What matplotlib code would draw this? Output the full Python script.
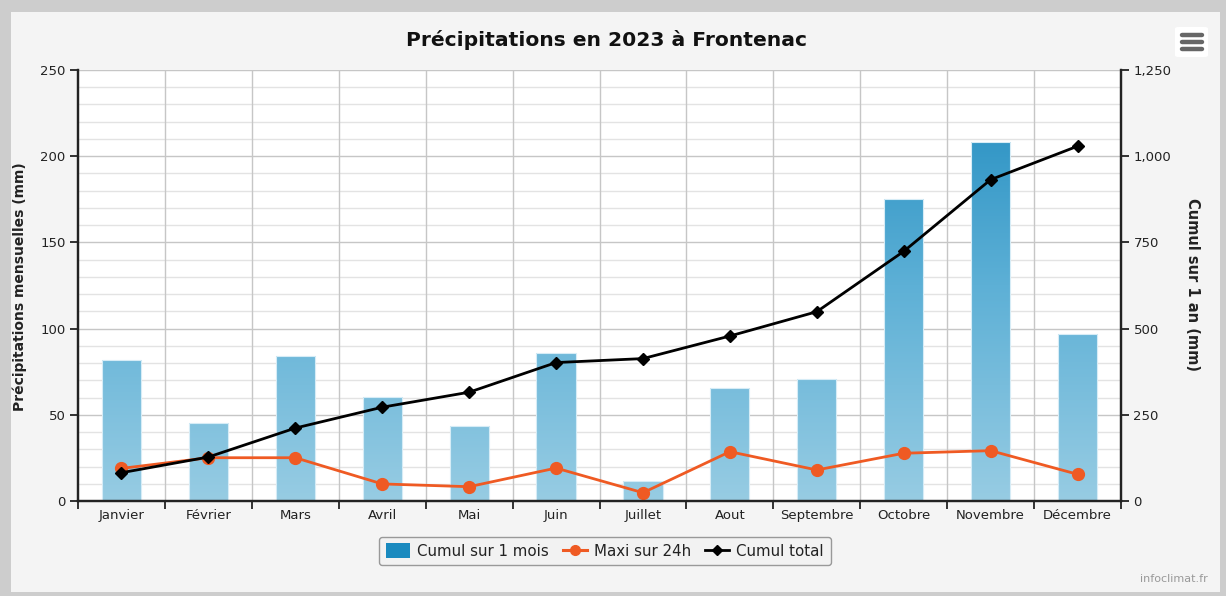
import numpy as np
import matplotlib
matplotlib.use("Agg")
import matplotlib.pyplot as plt
from matplotlib.patches import Rectangle, FancyBboxPatch, Patch
from matplotlib.lines import Line2D
from matplotlib.ticker import FuncFormatter

plt.rcParams['font.family'] = ['DejaVu Sans']

months = ["Janvier", "Février", "Mars", "Avril", "Mai", "Juin", "Juillet",
          "Aout", "Septembre", "Octobre", "Novembre", "Décembre"]
monthly_mm = [82, 45.5, 84, 60.5, 43.5, 86, 11.5, 65.5, 70.5, 175, 208, 97]
max_24h_mm = [18.9, 25.1, 25.1, 9.9, 8.3, 19.1, 4.8, 28.6, 18.0, 27.7, 29.2, 15.5]
left_ticks = [0, 50, 100, 150, 200, 250]
right_ticks = [0, 250, 500, 750, 1000, 1250]

cumul_total = np.cumsum(monthly_mm)

W, H, DPI = 1226, 596, 100
fig = plt.figure(figsize=(W / DPI, H / DPI), dpi=DPI, facecolor="#c9c9c9")

# window frame and chart background
fig.patches.append(Rectangle((0, 0), 1, 1, transform=fig.transFigure,
                             facecolor="#cdcdcd", edgecolor="none", zorder=-10))
fig.patches.append(Rectangle((11 / W, (H - 592) / H), (1220 - 11) / W, (592 - 12) / H,
                             transform=fig.transFigure, facecolor="#f4f4f4",
                             edgecolor="none", zorder=-9))

x0, x1, y0, y1 = 78, 1121, 70, 501
ax = fig.add_axes([x0 / W, (H - y1) / H, (x1 - x0) / W, (y1 - y0) / H])
ax.set_facecolor("white")
ax2 = ax.twinx()

x = np.arange(len(months))

# grid
for v in np.arange(0, 251, 10):
    major = v % 50 == 0
    ax.axhline(v, color="#c6c6c6" if major else "#e3e3e3", lw=1.0, zorder=0.5)
for b in np.arange(0.5, len(months) - 0.5, 1):
    ax.axvline(b, color="#c6c6c6", lw=1.0, zorder=0.5)

# bars with a vertical gradient spanning the plot height
grad = np.linspace(1, 0, 256).reshape(-1, 1)
cmap = matplotlib.colors.LinearSegmentedColormap.from_list(
    "blues", ["#97cce3", "#5db0d6", "#1f8bbf"])
bars = ax.bar(x, monthly_mm, width=0.45, color="none", edgecolor="#d6ecf6",
              lw=0.8, zorder=2)
for bar in bars:
    im = ax.imshow(grad, cmap=cmap, aspect="auto", origin="upper",
                   extent=[-0.5, len(months) - 0.5, 0, 250], zorder=1.9)
    im.set_clip_path(bar)
ax.set_xlim(-0.5, len(months) - 0.5)
ax.set_ylim(left_ticks[0], left_ticks[-1])
ax2.set_ylim(right_ticks[0], right_ticks[-1])

orange = "#ef5a23"
ax.plot(x, max_24h_mm, color=orange, lw=2.0, marker="o", ms=8.5,
        zorder=4, clip_on=False)
ax2.plot(x, cumul_total, color="black", lw=2.0, marker="D", ms=6.5,
         zorder=5, clip_on=False)

# axes styling
ax.set_yticks(left_ticks)
ax2.set_yticks(right_ticks)
ax2.yaxis.set_major_formatter(FuncFormatter(lambda v, p: f"{int(v):,}"))
ax.set_xticks(np.arange(-0.5, len(months), 1))
ax.set_xticklabels([])
ax.set_xticks(x, minor=True)
ax.set_xticklabels(months, minor=True)
ax.tick_params(axis="x", which="major", length=6, width=1.3, color="#222",
               direction="out")
ax.tick_params(axis="x", which="minor", length=0, pad=6, labelsize=9.5,
               labelcolor="#222")
ax.tick_params(axis="y", length=6, width=1.3, color="#222", labelsize=9.5,
               labelcolor="#222", pad=3)
ax2.tick_params(axis="y", length=6, width=1.3, color="#222", labelsize=9.5,
                labelcolor="#222", pad=3)
for a in (ax, ax2):
    a.spines["top"].set_visible(False)
    for s in ("left", "right", "bottom"):
        a.spines[s].set_color("#222")
        a.spines[s].set_linewidth(1.6)
ax.set_zorder(1)
ax2.set_zorder(2)
ax2.patch.set_visible(False)

fig.text(20 / W, 1 - 287 / H, "Précipitations mensuelles (mm)", rotation=90,
         ha="center", va="center", fontsize=10, fontweight="bold", color="#222")
fig.text(1193 / W, 1 - 285 / H, "Cumul sur 1 an (mm)", rotation=-90,
         ha="center", va="center", fontsize=10.5, fontweight="bold", color="#222")

fig.text(606 / W, 1 - 40 / H, "Précipitations en 2023 à Frontenac",
         ha="center", va="center", fontsize=14.6, fontweight="bold", color="#111")

# menu button
fig.patches.append(FancyBboxPatch((1175 / W, 1 - 57 / H), 33 / W, 30 / H,
                                  boxstyle="round,pad=0,rounding_size=0.003",
                                  transform=fig.transFigure, facecolor="white",
                                  edgecolor="none", zorder=3))
for yy in (35, 42, 49):
    fig.add_artist(Line2D([1182 / W, 1202 / W], [1 - yy / H, 1 - yy / H],
                          transform=fig.transFigure, color="#666", lw=3.2,
                          solid_capstyle="round", zorder=5))

fig.text(1208 / W, 1 - 579 / H, "infoclimat.fr", ha="right", va="center",
         fontsize=8, color="#999")

handles = [Patch(facecolor="#1a8abf", edgecolor="none"),
           Line2D([], [], color=orange, lw=2.2, marker="o", ms=7),
           Line2D([], [], color="black", lw=2.0, marker="D", ms=5)]
labels = ["Cumul sur 1 mois", "Maxi sur 24h", "Cumul total"]
leg = fig.legend(handles, labels, loc="center", ncol=3,
                 bbox_to_anchor=(605 / W, 1 - 551 / H), frameon=True,
                 fancybox=True, edgecolor="#999", facecolor="#f2f2f2",
                 fontsize=10.8, handlelength=1.6, handleheight=1.1,
                 handletextpad=0.5, columnspacing=0.9, borderpad=0.45,
                 framealpha=1)
leg.get_frame().set_linewidth(1.0)
for t in leg.get_texts():
    t.set_color("#222")

fig.savefig("out.png", dpi=DPI, facecolor=fig.get_facecolor())
